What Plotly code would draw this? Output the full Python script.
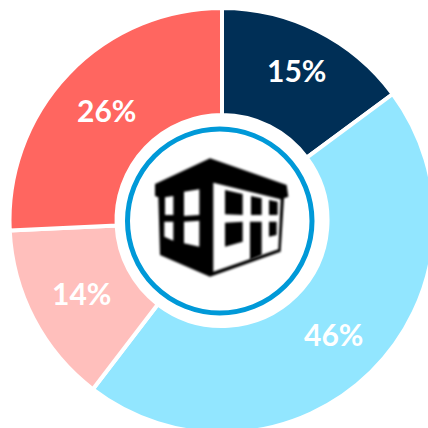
import math
import plotly.graph_objects as go

categories = ["A", "B", "C", "D"]
values = [15, 46, 14, 26]
colors = ["#002F56", "#92E6FF", "#FFBFBC", "#FF6660"]
label_radius = [167, 160, 158, 158]

W = H = 440
CX, CY, R = 222, 220.5, 212.5

def px(x): return x / W
def py(y): return 1 - y / H
def zp(points):
    # icon outline, in 3x crop coordinates of the 428px canvas
    s = ""
    for i, (x, y) in enumerate(points):
        s += ("M" if i == 0 else "L") + f"{px(110 + x / 3):.5f},{py(120 + y / 3):.5f} "
    return s + "Z"

outline = [(135,192),(300,115),(530,195),(535,230),(522,235),(512,395),(300,470),(150,405),(145,232),(135,228)]
white_parts = [
    [(165,232),(190,228),(190,285),(165,285)],
    [(222,215),(268,208),(268,285),(222,288)],
    [(163,305),(190,305),(190,362),(163,350)],
    [(222,305),(268,302),(268,380),(222,370)],
    [(310,188),(512,238),(505,388),(310,455)],
]
black_parts = [
    [(345,210),(398,222),(398,285),(345,283)],
    [(423,228),(455,235),(455,285),(423,285)],
    [(477,240),(503,245),(503,285),(477,285)],
    [(345,308),(398,305),(398,365),(345,380)],
    [(477,305),(500,305),(500,345),(477,350)],
    [(420,305),(455,305),(455,405),(420,420)],
]

shapes = [dict(type="circle", xref="paper", yref="paper",
               x0=px(127.5), x1=px(312), y0=py(313), y1=py(129),
               line=dict(color="#0099D8", width=5), fillcolor="white")]
for pts, col in [(outline, "black")] + [(p, "white") for p in white_parts] + [(p, "black") for p in black_parts]:
    shapes.append(dict(type="path", xref="paper", yref="paper", path=zp(pts),
                       fillcolor=col, line=dict(width=0)))

# Labels sit at each slice's mid-angle, computed from the values
annotations = []
total = sum(values)
cum = 0
for v, r in zip(values, label_radius):
    a = 2 * math.pi * (cum + v / 2) / total
    cum += v
    annotations.append(dict(
        x=px(CX + r * math.sin(a)), y=py(CY - r * math.cos(a)),
        xref="paper", yref="paper", text=f"{v}%", showarrow=False,
        xanchor="center", yanchor="middle", yshift=1, xshift=-1,
        font=dict(family="Lato", size=30, color="white", weight="bold")))

fig = go.Figure(go.Pie(
    labels=categories, values=values, sort=False, direction="clockwise", rotation=0,
    hole=0.4965, marker=dict(colors=colors, line=dict(color="white", width=4)),
    textinfo="none",
    domain=dict(x=[(CX - R) / W, (CX + R) / W], y=[1 - (CY + R) / H, 1 - (CY - R) / H]),
    showlegend=False, hoverinfo="skip",
))
fig.update_layout(width=W, height=H, margin=dict(l=0, r=0, t=0, b=0),
                  paper_bgcolor="white", shapes=shapes, annotations=annotations)
post = """
document.body.style.margin='0';
document.documentElement.style.overflow='hidden';
document.body.style.overflow='hidden';
document.querySelectorAll('.shapelayer path').forEach(function(p,i){ if(i>0){ p.style.filter='blur(0.9px)'; } });
"""
fig.write_html("out.html", post_script=post, config=dict(displayModeBar=False))
